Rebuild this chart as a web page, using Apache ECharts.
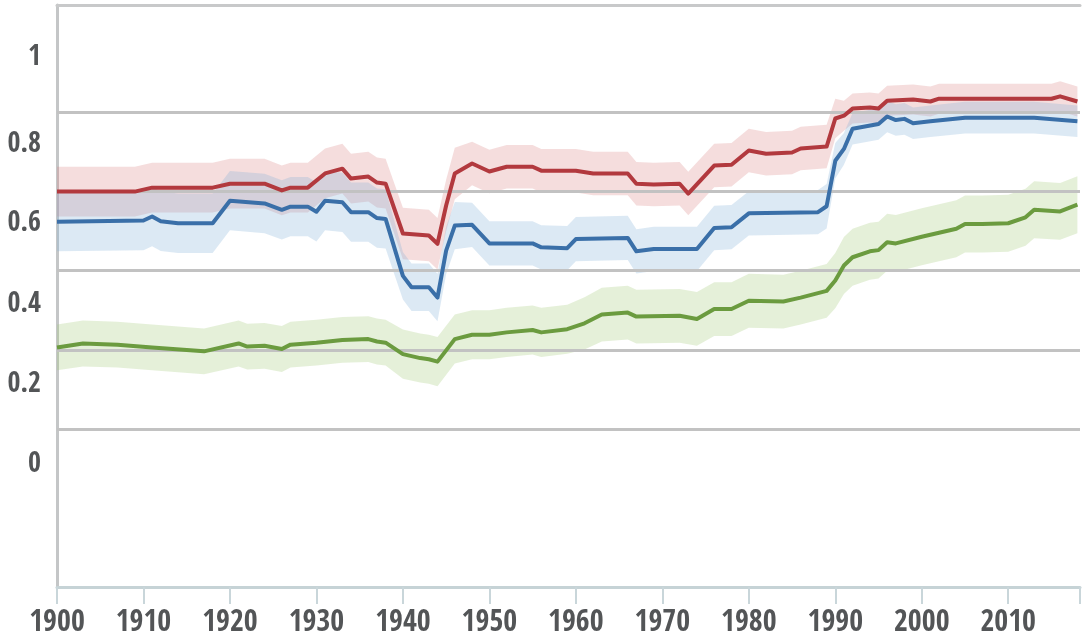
<!DOCTYPE html>
<html>
<head>
<meta charset="utf-8">
<script src="https://cdn.jsdelivr.net/npm/echarts@6/dist/echarts.min.js"></script>
<style>
  html, body { margin: 0; padding: 0; background: #ffffff; }
  #chart { width: 1083px; height: 639px; }
</style>
</head>
<body>
<div id="chart"></div>
<script>
// ---- data -----------------------------------------------------------------
const redYears   = [1900,1909,1911,1918,1920,1924,1926,1927,1929,1931,1933,1934,1936,1937,1938,1940,1943,1944,1945,1946,1948,1950,1952,1955,1956,1960,1962,1966,1967,1969,1972,1973,1976,1978,1980,1982,1985,1986,1989,1990,1991,1992,1994,1995,1996,1999,2001,2002,2015,2016,2018];
const redValues  = [0.600,0.600,0.610,0.610,0.620,0.620,0.603,0.610,0.610,0.646,0.658,0.633,0.638,0.623,0.620,0.494,0.489,0.468,0.565,0.646,0.671,0.651,0.663,0.663,0.653,0.653,0.646,0.646,0.620,0.618,0.620,0.595,0.666,0.668,0.704,0.696,0.699,0.709,0.714,0.785,0.792,0.810,0.813,0.810,0.830,0.833,0.828,0.835,0.835,0.841,0.828];
const redMargins = [0.063,0.063,0.063,0.063,0.063,0.063,0.063,0.063,0.063,0.063,0.063,0.063,0.063,0.063,0.063,0.065,0.065,0.065,0.065,0.065,0.055,0.055,0.055,0.055,0.055,0.055,0.055,0.055,0.055,0.055,0.055,0.055,0.055,0.055,0.055,0.055,0.055,0.055,0.055,0.050,0.038,0.038,0.038,0.038,0.038,0.038,0.038,0.038,0.038,0.038,0.038];

const blueYears   = [1900,1910,1911,1912,1914,1918,1920,1924,1926,1927,1929,1930,1931,1933,1934,1936,1937,1938,1940,1941,1943,1944,1945,1946,1948,1950,1955,1956,1959,1960,1966,1967,1969,1974,1976,1978,1980,1988,1989,1990,1991,1992,1995,1996,1997,1998,1999,2001,2005,2013,2018];
const blueValues  = [0.524,0.527,0.537,0.525,0.520,0.520,0.577,0.570,0.554,0.562,0.562,0.549,0.577,0.573,0.548,0.548,0.533,0.531,0.387,0.358,0.358,0.332,0.451,0.514,0.516,0.469,0.469,0.459,0.457,0.480,0.483,0.449,0.455,0.455,0.508,0.510,0.545,0.548,0.563,0.678,0.708,0.759,0.771,0.790,0.781,0.784,0.773,0.778,0.787,0.787,0.778];
const blueMargins = [0.075,0.075,0.075,0.075,0.075,0.075,0.075,0.075,0.075,0.075,0.075,0.075,0.075,0.075,0.075,0.075,0.075,0.075,0.060,0.060,0.060,0.060,0.060,0.060,0.056,0.056,0.056,0.056,0.056,0.056,0.056,0.056,0.056,0.056,0.056,0.056,0.056,0.056,0.056,0.045,0.040,0.040,0.040,0.040,0.040,0.040,0.040,0.040,0.040,0.040,0.040];

const greenYears   = [1900,1903,1907,1911,1917,1921,1922,1924,1926,1927,1930,1933,1936,1937,1938,1940,1942,1943,1944,1946,1948,1950,1952,1955,1956,1959,1961,1963,1966,1967,1972,1974,1976,1978,1980,1984,1986,1989,1990,1991,1992,1994,1995,1996,1997,2000,2004,2005,2007,2010,2012,2013,2016,2018];
const greenValues  = [0.206,0.216,0.213,0.206,0.196,0.216,0.208,0.210,0.202,0.213,0.218,0.225,0.227,0.221,0.218,0.189,0.179,0.176,0.170,0.227,0.238,0.238,0.244,0.250,0.244,0.252,0.267,0.289,0.294,0.284,0.286,0.278,0.303,0.303,0.324,0.322,0.332,0.349,0.375,0.413,0.434,0.449,0.452,0.472,0.469,0.486,0.506,0.518,0.518,0.520,0.535,0.554,0.550,0.567];
const greenMargins = [0.058,0.058,0.058,0.058,0.058,0.058,0.058,0.058,0.058,0.058,0.058,0.058,0.058,0.058,0.058,0.062,0.062,0.062,0.062,0.062,0.062,0.062,0.062,0.062,0.062,0.062,0.066,0.068,0.068,0.068,0.068,0.068,0.068,0.068,0.068,0.068,0.068,0.068,0.070,0.072,0.072,0.072,0.072,0.072,0.072,0.072,0.072,0.072,0.072,0.072,0.072,0.072,0.072,0.072];

// horizontal reference lines and axis labels
const gridValues   = [0, 0.2, 0.4, 0.6, 0.8];
const yTickValues  = [0, 0.2, 0.4, 0.6, 0.8, 1];
const yTickLabels  = ['0', '0.2', '0.4', '0.6', '0.8', '1'];
const xLabelYears  = [1900, 1910, 1920, 1930, 1940, 1950, 1960, 1970, 1980, 1990, 2000, 2010];

// ---- styling --------------------------------------------------------------
const FONT = '"Open Sans Condensed", "Open Sans", sans-serif';
const TEXT = '#535557';
// each y label sits a little below its tick (px)
const yLabelShift = [36, 35, 34, 32, 32, 24];

const rich = {};
yTickValues.forEach((v, i) => {
  rich['s' + i] = {
    fontFamily: FONT, fontSize: 28, fontWeight: 'bold', color: TEXT,
    padding: [yLabelShift[i] * 2, 0, 0, 0]
  };
});

function pairs(xs, ys) { return xs.map((x, i) => [x, ys[i]]); }

// uncertainty band drawn as one polygon through the axis scales
function band(xs, ys, ms, fill) {
  return {
    type: 'custom',
    z: 1,
    silent: true,
    clip: true,
    data: [[xs[0], ys[0]]],
    renderItem(params, api) {
      const upper = xs.map((x, i) => api.coord([x, ys[i] + ms[i]]));
      const lower = xs.map((x, i) => api.coord([x, ys[i] - ms[i]])).reverse();
      return { type: 'polygon', shape: { points: upper.concat(lower) }, style: { fill } };
    }
  };
}

function line(xs, ys, color) {
  return {
    type: 'line',
    z: 6,
    silent: true,
    symbol: 'none',
    data: pairs(xs, ys),
    lineStyle: { color, width: 4, join: 'round' }
  };
}

const chart = echarts.init(document.getElementById('chart'), null, { renderer: 'canvas' });

chart.setOption({
  animation: false,
  backgroundColor: '#ffffff',
  grid: { left: 57, right: 0, top: 5, bottom: 52, containLabel: false },
  xAxis: [
    {
      type: 'value',
      min: 1900,
      max: 2018.3,
      interval: 10,
      splitLine: { show: false },
      axisLine: { show: true, onZero: false, lineStyle: { color: '#c6d3d6', width: 3 } },
      axisTick: { show: true, length: 17, lineStyle: { color: '#c9d6da', width: 2 } },
      axisLabel: {
        margin: 21,
        fontFamily: FONT, fontSize: 30, fontWeight: 'bold', color: TEXT,
        formatter: v => (xLabelYears.indexOf(Math.round(v * 1000) / 1000) >= 0 ? String(v) : '')
      }
    },
    {
      type: 'value',
      position: 'top',
      min: 1900,
      max: 2018.3,
      axisLine: { show: true, onZero: false, lineStyle: { color: '#c8c9ca', width: 3 } },
      axisTick: { show: false },
      axisLabel: { show: false },
      splitLine: { show: false }
    }
  ],
  yAxis: {
    type: 'value',
    min: -0.4,
    max: 1.072,
    interval: 0.2,
    splitLine: { show: false },
    axisTick: { show: false },
    axisLine: { show: true, onZero: false, lineStyle: { color: '#c4c6c7', width: 3 } },
    axisLabel: {
      margin: 16,
      formatter: v => {
        const i = yTickValues.findIndex(t => Math.abs(t - v) < 1e-6);
        return i < 0 ? '' : '{s' + i + '|' + yTickLabels[i] + '}';
      },
      rich
    }
  },
  series: [
    band(redYears, redValues, redMargins, 'rgba(215,120,120,0.25)'),
    band(blueYears, blueValues, blueMargins, 'rgba(130,175,215,0.28)'),
    band(greenYears, greenValues, greenMargins, 'rgba(160,200,120,0.28)'),
    {
      type: 'line',
      z: 2,
      silent: true,
      data: [],
      markLine: {
        z: 2,
        silent: true,
        symbol: 'none',
        label: { show: false },
        lineStyle: { type: 'solid', color: '#c2c2c2', width: 3 },
        data: gridValues.map(v => ({ yAxis: v }))
      }
    },
    line(redYears, redValues, '#b2393e'),
    line(blueYears, blueValues, '#3a6fa8'),
    line(greenYears, greenValues, '#6b9b3f')
  ]
});
</script>
</body>
</html>
